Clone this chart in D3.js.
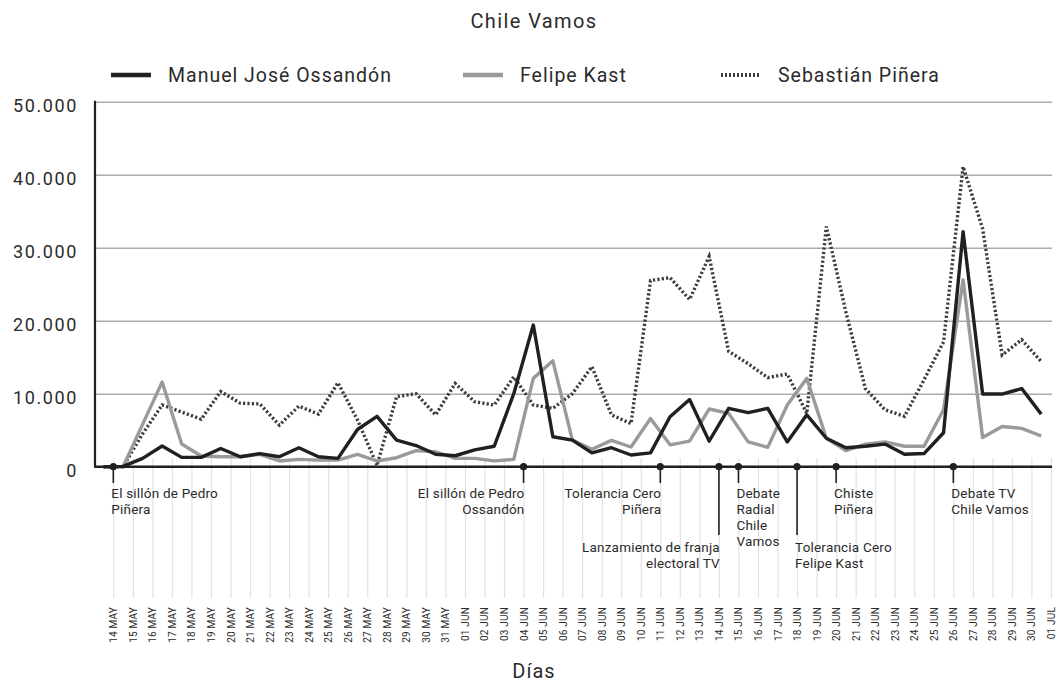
<!DOCTYPE html>
<html>
<head>
<meta charset="utf-8">
<script src="https://cdn.jsdelivr.net/npm/d3@7"></script>
<style>
  body { margin: 0; background: #fff; }
  text { font-family: Roboto, "DejaVu Sans", sans-serif; fill: #2b2b2b; }
</style>
</head>
<body>
<div id="chart"></div>
<script>
// Dias (tick labels)
var days = [
  "14 MAY", "15 MAY", "16 MAY", "17 MAY", "18 MAY", "19 MAY", "20 MAY", "21 MAY", "22 MAY",
  "23 MAY", "24 MAY", "25 MAY", "26 MAY", "27 MAY", "28 MAY", "29 MAY", "30 MAY", "31 MAY",
  "01 JUN", "02 JUN", "03 JUN", "04 JUN", "05 JUN", "06 JUN", "07 JUN", "08 JUN", "09 JUN",
  "10 JUN", "11 JUN", "12 JUN", "13 JUN", "14 JUN", "15 JUN", "16 JUN", "17 JUN", "18 JUN",
  "19 JUN", "20 JUN", "21 JUN", "22 JUN", "23 JUN", "24 JUN", "25 JUN", "26 JUN", "27 JUN",
  "28 JUN", "29 JUN", "30 JUN", "01 JUL"
];

// Series values (one per day)
var ossandon = [0, 50, 1140, 2830, 1280, 1280, 2500, 1370, 1800, 1370, 2600, 1370, 1140, 5100,
  6900, 3650, 2900, 1700, 1500, 2300, 2800, 10000, 19400, 4100, 3650, 1900, 2600, 1600, 1900,
  6850, 9200, 3500, 8000, 7400, 8000, 3400, 7100, 3900, 2600, 2800, 3100, 1700, 1800, 4650,
  32200, 9950, 9950, 10700, 7200];
var kast = [0, 0, 5800, 11600, 3100, 1460, 1370, 1370, 1700, 780, 1000, 900, 900, 1700, 780,
  1230, 2200, 2050, 1140, 1140, 800, 1000, 12100, 14500, 3650, 2400, 3600, 2700, 6600, 3000,
  3500, 7900, 7300, 3400, 2650, 8450, 12100, 3900, 2200, 3100, 3400, 2800, 2800, 7800, 25600,
  4000, 5500, 5250, 4200];
var pinera = [0, 0, 4500, 8450, 7500, 6500, 10300, 8700, 8600, 5700, 8300, 7200, 11500, 6400,
  200, 9600, 10000, 7100, 11400, 8900, 8450, 12300, 8450, 8000, 10000, 13700, 7100, 5900,
  25500, 25900, 22900, 28800, 15800, 14100, 12200, 12700, 7300, 32900, 21200, 10700, 7800,
  6900, 11900, 17100, 41100, 32600, 15300, 17400, 14400];

var seriesNames = ["Manuel José Ossandón", "Felipe Kast", "Sebastián Piñera"];
var yTicks = [0, 10000, 20000, 30000, 40000, 50000];

// Hitos
var eventDays = ["14 MAY", "04 JUN", "11 JUN", "14 JUN", "15 JUN", "18 JUN", "20 JUN", "26 JUN"];
var eventLabels = [
  ["El sillón de Pedro", "Piñera"],
  ["El sillón de Pedro", "Ossandón"],
  ["Tolerancia Cero", "Piñera"],
  ["Lanzamiento de franja", "electoral TV"],
  ["Debate", "Radial", "Chile", "Vamos"],
  ["Tolerancia Cero", "Felipe Kast"],
  ["Chiste", "Piñera"],
  ["Debate TV", "Chile Vamos"]
];

var svgWidth = 1057;
var svgHeight = 683;

var svg = d3.select("#chart")
  .append("svg")
  .attr("width", svgWidth)
  .attr("height", svgHeight);

var plotLeft = 95, plotRight = 1052, plotTop = 101.7, zeroY = 466.7;

// x: ticks at the end of each day, points in the middle
var xTick = d3.scalePoint().domain(days).range([113.3, 1051]);
var step = xTick.step();
var xPoint = function(d) { return xTick(d) - step / 2; };

var yScale = d3.scaleLinear().domain([0, 50000]).range([zeroY, plotTop]);

var fmt = d3.formatLocale({ decimal: ",", thousands: ".", grouping: [3], currency: ["$", ""] }).format(",d");

// vertical day lines + rotated labels
var xAxis = svg.append("g")
  .attr("transform", "translate(0,458)")
  .call(d3.axisBottom(xTick).tickSize(140).tickSizeOuter(0).tickFormat(d => d));
xAxis.select(".domain").remove();
xAxis.selectAll(".tick line").attr("stroke", "#e2e2e2").attr("stroke-width", 1.2);
xAxis.selectAll(".tick text")
  .attr("transform", "translate(0,149) rotate(-90)")
  .attr("x", 0)
  .attr("y", 0)
  .attr("dy", "0.35em")
  .attr("text-anchor", "end")
  .style("font-size", "10px")
  .style("letter-spacing", "0.2px")
  .attr("fill", "#333");

// horizontal grid + y labels
var yAxis = svg.append("g")
  .attr("transform", `translate(${plotLeft},0)`)
  .call(d3.axisLeft(yScale).tickValues(yTicks).tickSize(-(plotRight - plotLeft)).tickFormat(fmt));
yAxis.select(".domain").remove();
yAxis.selectAll(".tick line").attr("stroke", "#ababab").attr("stroke-width", 1.5);
yAxis.selectAll(".tick text")
  .attr("x", -17)
  .attr("dy", "0.55em")
  .style("font-size", "18px")
  .style("letter-spacing", "1.6px")
  .attr("fill", "#333");

// axis lines
svg.append("line")
  .attr("x1", plotLeft).attr("x2", plotLeft)
  .attr("y1", plotTop - 1).attr("y2", zeroY + 1)
  .attr("stroke", "#231f20").attr("stroke-width", 2.2);

// series lines
var lineGen = function(values) {
  return d3.line()
    .x((d, i) => xPoint(days[i]))
    .y(d => yScale(d))(values);
};

svg.append("path").attr("d", lineGen(pinera))
  .attr("fill", "none").attr("stroke", "#3d3d3d").attr("stroke-width", 3.4)
  .attr("stroke-dasharray", "2.2,2.2");
svg.append("path").attr("d", lineGen(kast))
  .attr("fill", "none").attr("stroke", "#9a9a9a").attr("stroke-width", 3.4)
  .attr("stroke-linejoin", "round");
svg.append("path").attr("d", lineGen(ossandon))
  .attr("fill", "none").attr("stroke", "#231f20").attr("stroke-width", 3.4)
  .attr("stroke-linejoin", "round");

svg.append("line")
  .attr("x1", plotLeft).attr("x2", plotRight)
  .attr("y1", zeroY).attr("y2", zeroY)
  .attr("stroke", "#231f20").attr("stroke-width", 2.5);

// event markers
var rightAligned = ["04 JUN", "11 JUN", "14 JUN"];
var longStem = ["14 JUN", "18 JUN"];

eventDays.forEach(function(d, k) {
  var ex = xTick(d);
  var isLong = longStem.indexOf(d) >= 0;
  var isRight = rightAligned.indexOf(d) >= 0;
  var stemEnd = isLong ? 535 : 483;
  svg.append("line")
    .attr("x1", ex).attr("x2", ex)
    .attr("y1", zeroY).attr("y2", stemEnd)
    .attr("stroke", "#231f20").attr("stroke-width", 1.6);
  svg.append("circle")
    .attr("cx", ex).attr("cy", zeroY).attr("r", 3.6)
    .attr("fill", "#231f20");
  var baseY = isLong ? 551.5 : 498;
  var label = svg.append("text")
    .attr("text-anchor", isRight ? "end" : "start")
    .style("font-size", "13.5px")
    .style("letter-spacing", "0.2px")
    .attr("fill", "#333");
  eventLabels[k].forEach(function(t, j) {
    label.append("tspan")
      .attr("x", isRight ? ex + 1 : ex - 2)
      .attr("y", baseY + j * 16)
      .text(t);
  });
});

// title
svg.append("text")
  .attr("x", 534).attr("y", 28)
  .attr("text-anchor", "middle")
  .style("font-size", "20px")
  .style("letter-spacing", "1.4px")
  .attr("fill", "#333")
  .text("Chile Vamos");

// axis title
svg.append("text")
  .attr("x", 534).attr("y", 678)
  .attr("text-anchor", "middle")
  .style("font-size", "20px")
  .style("letter-spacing", "1px")
  .attr("fill", "#333")
  .text("Días");

// legend
var legendX = [111, 463, 721];
var legendStyles = [
  { color: "#231f20", dash: null },
  { color: "#9a9a9a", dash: null },
  { color: "#3d3d3d", dash: "2,2" }
];
seriesNames.forEach(function(name, i) {
  var g = svg.append("g").attr("transform", `translate(${legendX[i]},75)`);
  g.append("line")
    .attr("x1", 0).attr("x2", 40)
    .attr("y1", 0).attr("y2", 0)
    .attr("stroke", legendStyles[i].color)
    .attr("stroke-width", i === 2 ? 4 : 4.5)
    .attr("stroke-dasharray", legendStyles[i].dash);
  g.append("text")
    .attr("x", 57).attr("y", 7)
    .style("font-size", "19.5px")
    .style("letter-spacing", "1px")
    .attr("fill", "#333")
    .text(name);
});
</script>
</body>
</html>
